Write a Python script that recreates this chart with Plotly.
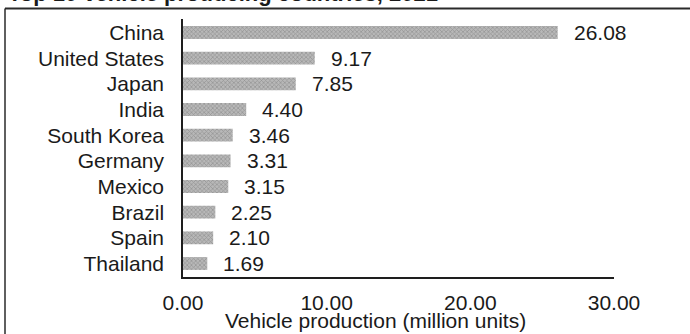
import plotly.graph_objects as go

# Vehicle production by country, 2021 (million units)
countries = ["China", "United States", "Japan", "India", "South Korea",
             "Germany", "Mexico", "Brazil", "Spain", "Thailand"]
production = [26.08, 9.17, 7.85, 4.40, 3.46, 3.31, 3.15, 2.25, 2.10, 1.69]
x_ticks = [0, 10, 20, 30]
x_tick_labels = ["0.00", "10.00", "20.00", "30.00"]

W, H = 690, 334
L, R, T, B = 183, 76, 19, 57
pw, ph = W - L - R, H - T - B

FONT = "Liberation Sans, Arial, sans-serif"

fig = go.Figure(go.Bar(
    x=production,
    y=countries,
    orientation="h",
    width=0.5,
    marker=dict(
        color="#a6a6a6",
        line=dict(width=0),
        pattern=dict(shape="x", fgcolor="#6e6e6e", bgcolor="#b8b8b8",
                     size=3, solidity=0.4),
    ),
    hoverinfo="skip",
))

# value labels just past the end of each bar
annotations = [
    dict(x=v, y=c, xref="x", yref="y", text=f"{v:.2f}", showarrow=False,
         xanchor="left", yanchor="middle", xshift=14,
         font=dict(family=FONT, size=21, color="#1a1a1a"))
    for c, v in zip(countries, production)
]

# chart title (sits above the frame)
annotations.append(dict(
    x=(6 - L) / pw, y=1 + (T - 8) / ph, xref="paper", yref="paper",
    text="<b>Top 10 vehicle producing countries, 2021</b>", showarrow=False,
    xanchor="left", yanchor="bottom",
    font=dict(family=FONT, size=22, color="#1a1a1a"),
))

# x-axis title
annotations.append(dict(
    x=(375 - L) / pw, y=-(320 - (T + ph)) / ph, xref="paper", yref="paper",
    text="Vehicle production (million units)", showarrow=False,
    xanchor="center", yanchor="middle",
    font=dict(family=FONT, size=21, color="#1a1a1a"),
))

# outer frame: top and left edges
shapes = [
    dict(type="line", xref="paper", yref="paper",
         x0=(5 - L) / pw, x1=(W + 5 - L) / pw,
         y0=1 + (T - 8.5) / ph, y1=1 + (T - 8.5) / ph,
         line=dict(color="#2a2a2a", width=2)),
    dict(type="line", xref="paper", yref="paper",
         x0=(5 - L) / pw, x1=(5 - L) / pw,
         y0=1 + (T - 8.5) / ph, y1=-(H + 5 - T - ph) / ph,
         line=dict(color="#2a2a2a", width=1.5)),
]

fig.update_layout(
    width=W, height=H,
    margin=dict(l=L, r=R, t=T, b=B, pad=0),
    paper_bgcolor="white", plot_bgcolor="white",
    showlegend=False,
    bargap=0.5,
    font=dict(family=FONT, size=21, color="#1a1a1a"),
    annotations=annotations,
    shapes=shapes,
    xaxis=dict(
        range=[0, 30],
        tickvals=x_ticks, ticktext=x_tick_labels,
        showgrid=False, zeroline=False,
        showline=True, linecolor="#1e1e1e", linewidth=2,
        ticks="", ticklabelstandoff=6,
        tickfont=dict(family=FONT, size=21, color="#1a1a1a"),
        fixedrange=True,
    ),
    yaxis=dict(
        categoryorder="array", categoryarray=countries,
        autorange="reversed",
        showgrid=False, zeroline=False,
        showline=True, linecolor="#1e1e1e", linewidth=1.5,
        ticks="", ticklabelstandoff=13,
        tickfont=dict(family=FONT, size=21, color="#1a1a1a"),
        fixedrange=True,
    ),
)

fig.write_html("out.html", config={"displayModeBar": False})
